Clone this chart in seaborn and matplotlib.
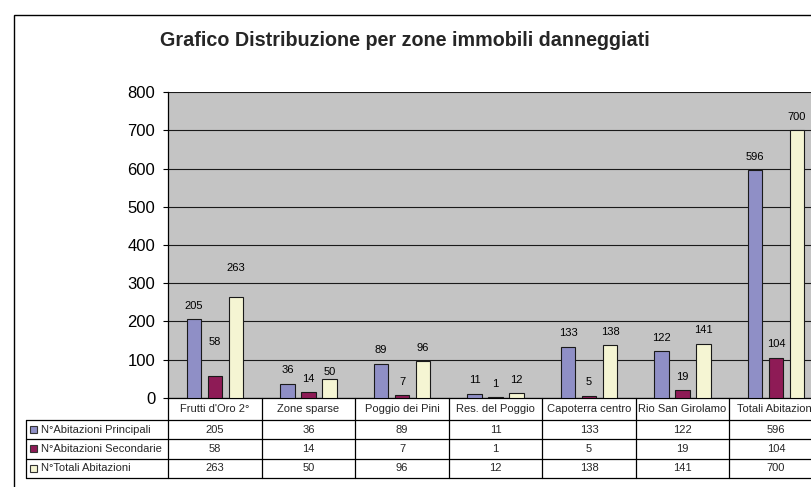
import numpy as np
import pandas as pd
import seaborn as sns
import matplotlib
matplotlib.use("Agg")
import matplotlib.pyplot as plt
from matplotlib.transforms import blended_transform_factory
from matplotlib.patches import Rectangle
from matplotlib.lines import Line2D

# ---------------- data ----------------
categories = ["Frutti d'Oro 2°", "Zone sparse", "Poggio dei Pini", "Res. del Poggio",
              "Capoterra centro", "Rio San Girolamo", "Totali Abitazioni"]
series = ["N°Abitazioni Principali", "N°Abitazioni Secondarie", "N°Totali Abitazioni"]
principali = [205, 36, 89, 11, 133, 122, 596]
secondarie = [58, 14, 7, 1, 5, 19, 104]
totali = [263, 50, 96, 12, 138, 141, 700]
yticks = [0, 100, 200, 300, 400, 500, 600, 700, 800]
title = "Grafico Distribuzione per zone immobili danneggiati"

# ---------------- style ----------------
colors = ["#8F8FC6", "#8E1B56", "#F5F5D3"]
bg = "#C4C4C4"
edge = "#1a1a1a"
label_dy_default = 13.5
label_dy_special = {(1, 0): 34, (2, 0): 29.4, (2, 1): 6.6}

sns.set_style("white")
plt.rcParams["font.family"] = ["Liberation Sans", "DejaVu Sans"]

W, H = 811, 487
fig = plt.figure(figsize=(W / 100, H / 100), dpi=100)
fx = lambda px: px / W
fy = lambda py: 1 - py / H

ax_left, ax_right, ax_top, ax_bottom = 168.3, 822.8, 92.3, 397.7
ax = fig.add_axes([fx(ax_left), fy(ax_bottom), fx(ax_right - ax_left), (ax_bottom - ax_top) / H])

df = pd.DataFrame({
    "Zona": categories * 3,
    "Serie": [s for s in series for _ in categories],
    "Valore": principali + secondarie + totali,
})

sns.barplot(data=df, x="Zona", y="Valore", hue="Serie", order=categories, hue_order=series,
            palette=colors, saturation=1, width=0.674, gap=0.31, edgecolor=edge,
            linewidth=0.8, errorbar=None, legend=False, ax=ax, zorder=3)

ax.set_facecolor(bg)
ax.set_xlim(-0.5, len(categories) - 0.5)
ax.set_ylim(0, 800)
ax.set_yticks(yticks)
ax.set_xticks([])
ax.set_xlabel("")
ax.set_ylabel("")
ax.set_axisbelow(True)
ax.yaxis.grid(True, color=edge, linewidth=0.8)
for s in ["top", "right"]:
    ax.spines[s].set_visible(False)
for s in ["left", "bottom"]:
    ax.spines[s].set_color("black")
    ax.spines[s].set_linewidth(0.9)
ax.tick_params(axis="y", direction="out", length=3.6, width=0.8, pad=5.8,
               labelsize=12, colors="black", left=True)

# data labels
values = [principali, secondarie, totali]
for si, (cont, vals) in enumerate(zip(ax.containers, values)):
    for ci, (bar, v) in enumerate(zip(cont, vals)):
        dy = label_dy_special.get((si, ci), label_dy_default)
        ax.annotate(f"{v}", (bar.get_x() + bar.get_width() / 2, bar.get_height()),
                    xytext=(0, dy), textcoords="offset pixels", ha="center", va="center",
                    fontsize=8, color="black", zorder=5)

# title
fig.text(fx(405), fy(41), title, ha="center", va="center", fontsize=14.2, fontweight="bold")

# outer border
fig.add_artist(Rectangle((fx(14), -0.2), 1.2, fy(15) + 0.2, transform=fig.transFigure,
                         fill=False, edgecolor="black", linewidth=1, clip_on=False))

# data table
trans = blended_transform_factory(ax.transData, fig.transFigure)
header_top, header_bot, row_h = 397.7, 420.0, 19.33
row_lines = [header_bot + row_h * k for k in range(4)]
table_bot = row_lines[-1]
for yl in row_lines:
    fig.add_artist(Line2D([fx(26), 1.05], [fy(yl), fy(yl)], transform=fig.transFigure,
                          color="black", linewidth=0.9))
for i in range(len(categories) + 1):
    xl = i - 0.5
    ax.add_artist(Line2D([xl, xl], [fy(header_top), fy(table_bot)], transform=trans,
                         color="black", linewidth=0.9, clip_on=False))
fig.add_artist(Line2D([fx(26), fx(26)], [fy(header_bot), fy(table_bot)],
                      transform=fig.transFigure, color="black", linewidth=0.9))

for i, cat in enumerate(categories):
    ax.text(i, fy((header_top + header_bot) / 2), cat, transform=trans, ha="center",
            va="center", fontsize=8, clip_on=False)
for r, (name, vals, col) in enumerate(zip(series, values, colors)):
    yc = header_bot + row_h * (r + 0.5)
    for i, v in enumerate(vals):
        ax.text(i, fy(yc), f"{v}", transform=trans, ha="center", va="center", fontsize=8,
                clip_on=False)
    fig.add_artist(Rectangle((fx(30), fy(yc + 3.5)), fx(7), 7 / H, transform=fig.transFigure,
                             facecolor=col, edgecolor="#333333", linewidth=0.8))
    fig.text(fx(41), fy(yc), name, ha="left", va="center", fontsize=8)

fig.savefig("out.png", dpi=100)
